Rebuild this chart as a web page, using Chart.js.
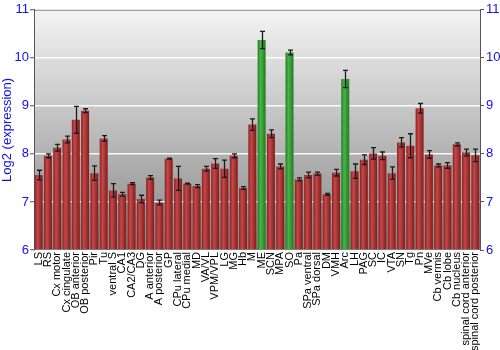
<!DOCTYPE html>
<html>
<head>
<meta charset="utf-8">
<script src="https://cdn.jsdelivr.net/npm/chart.js@4"></script>
<style>
  html, body { margin: 0; padding: 0; background: #fff; }
  #wrap { width: 500px; height: 350px; }
</style>
</head>
<body>
<div id="wrap"><canvas id="chart"></canvas></div>
<script>
// Regiões do cérebro
const regions = ['LS','RS','Cx motor','Cx cingulate','OB anterior','OB posterior','Pir','Tu',
  'ventral S','CA1','CA2/CA3','DG','A anterior','A posterior','GP','CPu lateral','CPu medial',
  'MD','VA/VL','VPM/VPL','LG','MG','Hb','M','ME','SCN','MPA','SO','Pa','SPa ventral',
  'SPa dorsal','DM','VMH','Arc','LH','PAG','SC','IC','VTA','SN','Tg','Pn','MVe',
  'Cb vermis','Cb lobe','Cb nucleus','spinal cord anterior','spinal cord posterior'];

// Expressão (log2)
const expression = [7.56,7.96,8.13,8.30,8.71,8.90,7.60,8.32,
  7.24,7.16,7.38,7.06,7.51,6.99,7.90,7.49,7.38,
  7.33,7.69,7.80,7.69,7.96,7.29,8.61,10.37,8.42,7.74,10.11,7.47,7.56,
  7.59,7.16,7.61,9.56,7.64,7.88,8.01,7.96,7.60,8.24,8.17,8.95,7.99,
  7.76,7.76,8.20,8.03,7.97];

// Erro padrão
const stdErr = [0.10,0.04,0.07,0.07,0.28,0.04,0.15,0.06,
  0.14,0.04,0.02,0.08,0.04,0.05,0.01,0.25,0.01,
  0.03,0.05,0.10,0.18,0.04,0.03,0.12,0.18,0.08,0.05,0.05,0.03,0.06,
  0.03,0.02,0.07,0.18,0.15,0.10,0.12,0.08,0.13,0.10,0.25,0.10,0.08,
  0.03,0.06,0.03,0.07,0.13];

// Destaques em verde
const highlighted = ['ME','SO','Arc'];

const yTicks = [6, 7, 8, 9, 10, 11];

// Gradiente horizontal de cada barra
function barFill(ctx) {
  const chart = ctx.chart;
  const i = ctx.dataIndex;
  const green = highlighted.includes(regions[i]);
  const xs = chart.scales.x;
  if (!chart.chartArea || !xs || i === undefined) return green ? '#2f9a2f' : '#b03434';
  const slot = xs.width / regions.length;
  const cx = xs.getPixelForValue(i);
  const w = slot * 0.86;
  const g = chart.ctx.createLinearGradient(cx - w / 2, 0, cx + w / 2, 0);
  if (green) {
    g.addColorStop(0, '#1e7a1e');
    g.addColorStop(0.35, '#49b449');
    g.addColorStop(1, '#1f7c1f');
  } else {
    g.addColorStop(0, '#8a2020');
    g.addColorStop(0.35, '#c54848');
    g.addColorStop(1, '#7e1c1c');
  }
  return g;
}

// Fundo em degradê + borda superior
const backgroundPlugin = {
  id: 'bgGradient',
  beforeDraw(chart) {
    const { ctx, chartArea: a } = chart;
    const g = ctx.createLinearGradient(0, a.top, 0, a.bottom);
    g.addColorStop(0, '#f4f4f4');
    g.addColorStop(1, '#868686');
    ctx.save();
    ctx.fillStyle = g;
    ctx.fillRect(a.left, a.top, a.right - a.left, a.bottom - a.top);
    ctx.strokeStyle = '#888';
    ctx.lineWidth = 1;
    ctx.beginPath();
    ctx.moveTo(a.left, a.top + 0.5);
    ctx.lineTo(a.right, a.top + 0.5);
    ctx.stroke();
    ctx.restore();
  }
};

// Barras de erro
const errorBarPlugin = {
  id: 'errorBars',
  afterDatasetsDraw(chart) {
    const { ctx } = chart;
    const meta = chart.getDatasetMeta(0);
    const y = chart.scales.y;
    ctx.save();
    ctx.strokeStyle = '#1a1a1a';
    ctx.lineWidth = 1.3;
    meta.data.forEach((bar, i) => {
      const v = expression[i], e = stdErr[i];
      const top = y.getPixelForValue(v + e);
      const bot = y.getPixelForValue(v - e);
      const x = Math.round(bar.x) + 0.5;
      ctx.beginPath();
      ctx.moveTo(x, top); ctx.lineTo(x, bot);
      ctx.moveTo(x - 2.5, top); ctx.lineTo(x + 2.5, top);
      ctx.moveTo(x - 2.5, bot); ctx.lineTo(x + 2.5, bot);
      ctx.stroke();
    });
    ctx.restore();
  }
};

const tickFont = { family: 'Liberation Sans, Arial, sans-serif', size: 13 };

new Chart(document.getElementById('chart'), {
  type: 'bar',
  data: {
    labels: regions,
    datasets: [{
      data: expression,
      backgroundColor: barFill,
      borderWidth: 0,
      barPercentage: 0.86,
      categoryPercentage: 1.0,
      base: 6
    }]
  },
  options: {
    responsive: true,
    maintainAspectRatio: false,
    animation: false,
    layout: { padding: { top: 9, left: 0, right: 0, bottom: 0 } },
    plugins: {
      legend: { display: false },
      tooltip: { enabled: false }
    },
    scales: {
      x: {
        grid: { display: false, drawTicks: false },
        border: { display: false },
        ticks: {
          autoSkip: false,
          maxRotation: 90,
          minRotation: 90,
          padding: 2,
          color: '#000',
          font: { family: 'Liberation Sans, Arial, sans-serif', size: 11 }
        },
        afterFit(scale) { scale.height = 100; }
      },
      y: {
        min: 6, max: 11,
        afterBuildTicks(scale) { scale.ticks = yTicks.map(v => ({ value: v })); },
        grid: {
          color: ctx => (ctx.tick && (ctx.tick.value === 6 || ctx.tick.value === 11)) ? 'rgba(0,0,0,0)' : 'rgba(255,255,255,0.9)',
          lineWidth: 1.5,
          drawTicks: true,
          tickLength: 4,
          tickColor: '#555',
          tickWidth: 1
        },
        border: { display: true, color: '#555', width: 1 },
        ticks: { color: '#1010ee', font: tickFont, padding: 1 },
        title: {
          display: true,
          text: 'Log2 (expression)',
          color: '#1010ee',
          font: tickFont,
          padding: { top: 0, bottom: 0 }
        },
        afterFit(scale) { scale.width = 34; }
      },
      y2: {
        position: 'right',
        min: 6, max: 11,
        afterBuildTicks(scale) { scale.ticks = yTicks.map(v => ({ value: v })); },
        grid: { display: true, drawOnChartArea: false, tickLength: 4, color: '#555' },
        border: { display: true, color: '#555', width: 1 },
        ticks: { color: '#1010ee', font: tickFont, padding: 2 },
        afterFit(scale) { scale.width = 20; }
      }
    }
  },
  plugins: [backgroundPlugin, errorBarPlugin]
});
</script>
</body>
</html>
